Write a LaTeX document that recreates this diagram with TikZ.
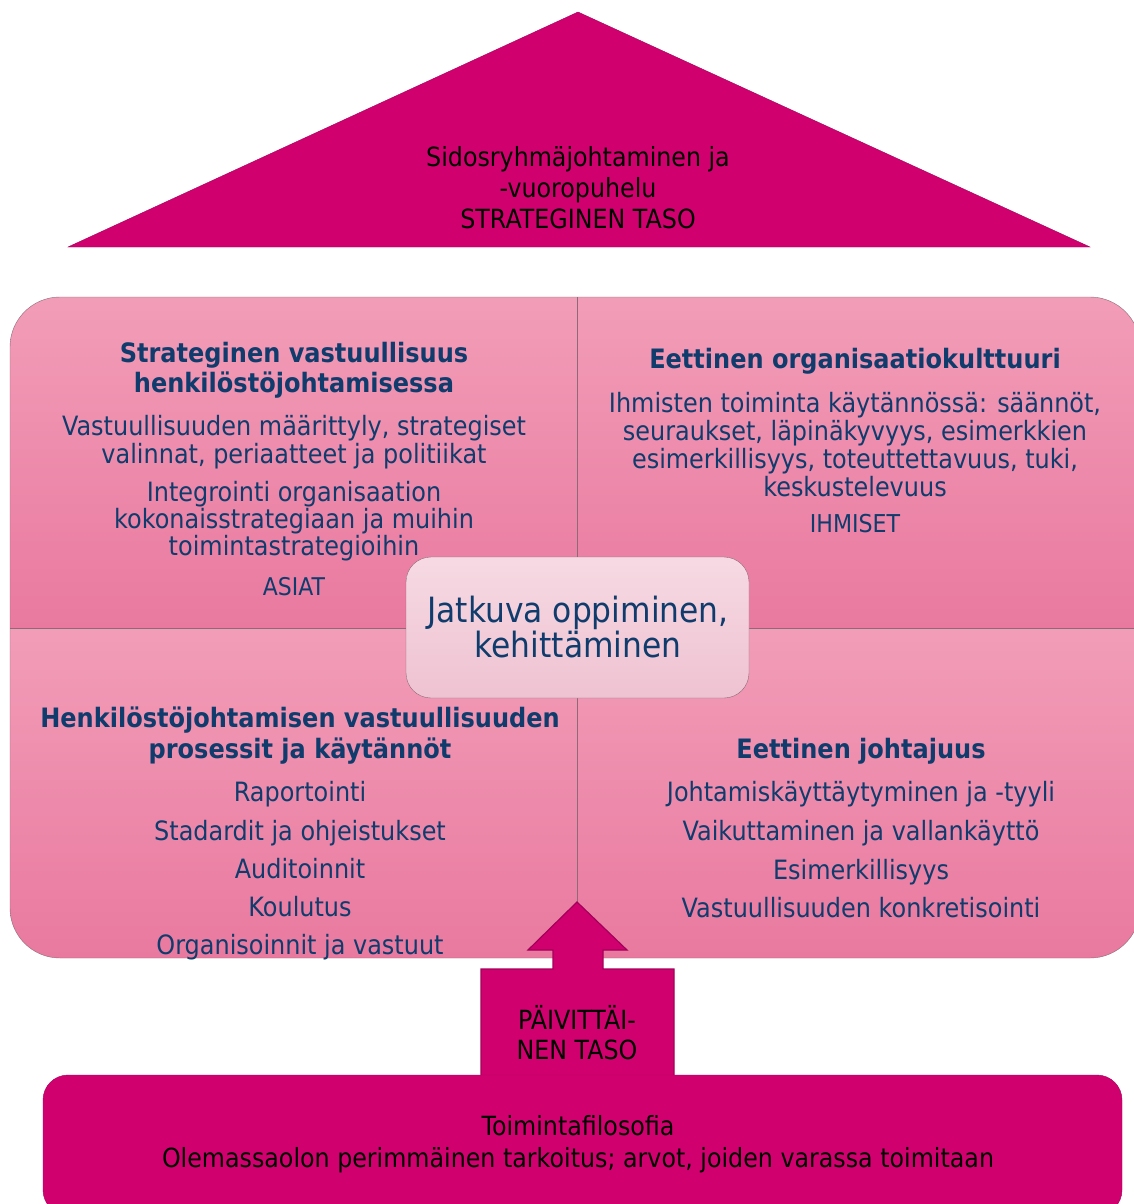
\documentclass[tikz,border=0pt]{standalone}
\usepackage{fontspec}
\setmainfont{DejaVu Sans}[FakeStretch=0.9]
\usetikzlibrary{positioning}
\definecolor{magen}{HTML}{D1006F}
\definecolor{magenline}{HTML}{A3005A}
\definecolor{qtop}{HTML}{F29DB8}
\definecolor{qbot}{HTML}{E9799F}
\definecolor{qline}{HTML}{8E6A78}
\definecolor{ctop}{HTML}{F6DAE3}
\definecolor{cbot}{HTML}{EFC2D1}
\definecolor{navy}{HTML}{0F3C6C}

\begin{document}
\begin{tikzpicture}[x=1pt,y=-1pt,
  body/.style={text=navy,align=center,inner sep=0pt,font=\fontsize{26.6}{28}\selectfont},
  head/.style={body,font=\fontsize{26.7}{30}\bfseries\selectfont},
  dark/.style={text=black,align=center,inner sep=0pt,font=\fontsize{26.4}{31}\selectfont}]
  \useasboundingbox (0,0) rectangle (1133,1204);
  % roof
  \draw[fill=magen,draw=magenline] (578,12) -- (1090,247) -- (68,247) -- cycle;
  \node[dark] (roof) at (578,188) {Sidosryhmäjohtaminen ja\\-vuoropuhelu\\STRATEGINEN TASO};
  % four quadrants
  \begin{scope}
    \clip[rounded corners=50] (10,297) rectangle (1140,958);
    \shade[top color=qtop,bottom color=qbot] (10,297) rectangle (1140,628);
    \shade[top color=qtop,bottom color=qbot] (10,628) rectangle (1140,958);
  \end{scope}
  \draw[qline,rounded corners=50] (10,297) rectangle (1140,958);
  \draw[qline] (577,297) -- (577,958);
  \draw[qline] (10,628) -- (1140,628);
  % top left
  \node[head] (tlhead) at (294,370) {Strateginen vastuullisuus\\henkilöstöjohtamisessa};
  \node[body] (tlfirst) at (294,442) {Vastuullisuuden määrittyly, strategiset\\valinnat, periaatteet ja politiikat};
  \node[body,font=\fontsize{26.6}{27}\selectfont] (tlsecond) at (294,521) {Integrointi organisaation\\kokonaisstrategiaan ja muihin\\toimintastrategioihin};
  \node[body,font=\fontsize{24.4}{26}\selectfont] (asiat) at (294,587) {ASIAT};
  % top right
  \node[head] (trhead) at (855,361) {Eettinen organisaatiokulttuuri};
  \node[body] (trfirst) at (855,445) {Ihmisten toiminta käytännössä: säännöt,\\seuraukset, läpinäkyvyys, esimerkkien\\esimerkillisyys, toteuttettavuus, tuki,\\keskustelevuus};
  \node[body,font=\fontsize{24.6}{26}\selectfont] (ihmiset) at (855,524) {IHMISET};
  % bottom left
  \node[head,font=\fontsize{26.7}{31}\bfseries\selectfont] (blhead) at (300,736) {Henkilöstöjohtamisen vastuullisuuden\\prosessit ja käytännöt};
  \node[body,font=\fontsize{26.6}{38.3}\selectfont] (blitems) at (300,871) {Raportointi\\Stadardit ja ohjeistukset\\Auditoinnit\\Koulutus\\Organisoinnit ja vastuut};
  % bottom right
  \node[head] (brhead) at (861,751) {Eettinen johtajuus};
  \node[body,font=\fontsize{26.6}{38.7}\selectfont] (britems) at (861,850) {Johtamiskäyttäytyminen ja -tyyli\\Vaikuttaminen ja vallankäyttö\\Esimerkillisyys\\Vastuullisuuden konkretisointi};
  % centre
  \draw[qline,rounded corners=25,top color=ctop,bottom color=cbot] (406,557) rectangle (749,698);
  \node[body,font=\fontsize{34.8}{35}\selectfont] (centre) at (578,627) {Jatkuva oppiminen,\\kehittäminen};
  % arrow up
  \draw[fill=magen,draw=magenline,line width=1.2pt] (481,1100) -- (481,969) -- (553,969) -- (553,950) -- (528,950)
    -- (577,902) -- (627,950) -- (603,950) -- (603,969) -- (674,969) -- (674,1100) -- cycle;
  \node[dark,font=\fontsize{26.4}{30}\selectfont] (daily) at (577,1033) {PÄIVITTÄI-\\NEN TASO};
  % base
  \draw[fill=magen,draw=magenline,rounded corners=25] (43,1075) rectangle (1122,1215);
  \node[dark,font=\fontsize{26.4}{32}\selectfont] (base) at (578,1144) {Toimintafilosofia\\Olemassaolon perimmäinen tarkoitus; arvot, joiden varassa toimitaan};
\end{tikzpicture}
\end{document}
